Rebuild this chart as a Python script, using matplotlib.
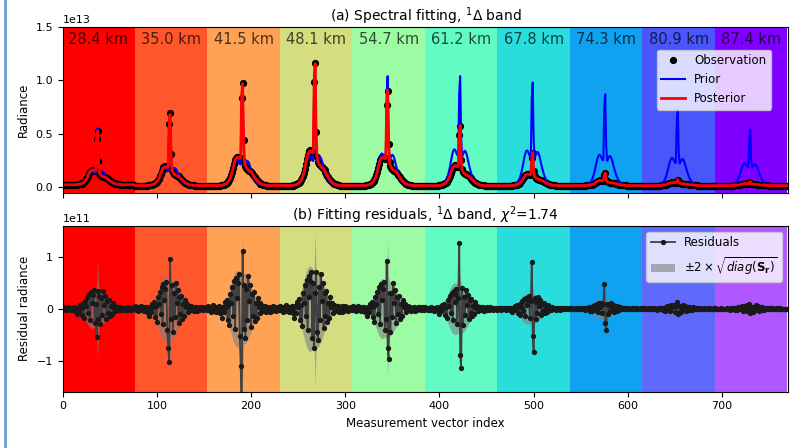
import numpy as np
import matplotlib
matplotlib.use("Agg")
import matplotlib.pyplot as plt
from matplotlib.lines import Line2D

# ---- data (radiance in 1e13, residuals in 1e11) ----
heights = ["28.4 km", "35.0 km", "41.5 km", "48.1 km", "54.7 km",
           "61.2 km", "67.8 km", "74.3 km", "80.9 km", "87.4 km"]
n_per = 77

obs_base = [0.022, 0.015, 0.015, 0.015, 0.015, 0.014, 0.014, 0.014, 0.014, 0.014]
obs_shoulder = [0.14, 0.18, 0.27, 0.33, 0.27, 0.19, 0.11, 0.05, 0.03, 0.02]
obs_peak = [0.53, 0.69, 0.98, 1.16, 0.90, 0.57, 0.32, 0.13, 0.07, 0.05]
prior_shoulder = [0.13, 0.17, 0.24, 0.28, 0.30, 0.34, 0.33, 0.29, 0.26, 0.21]
prior_peak = [0.55, 0.66, 0.95, 1.12, 1.04, 1.04, 0.98, 0.87, 0.73, 0.54]

# band profile read from one segment (normalised, core points at 36-38 separate)
wing_shape = [0, 0, 0, 0, 0, 0, 0, 0, 0, 0,
              0, 0, 0, 0, 0.01, 0.01, 0.02, 0.03, 0.04, 0.06,
              0.08, 0.11, 0.15, 0.20, 0.27, 0.36, 0.48, 0.62, 0.76, 0.87,
              0.94, 0.98, 1.00, 0.97, 0.92, 0.95, 0, 0, 0, 0.80,
              0.68, 0.62, 0.58, 0.55, 0.52, 0.50, 0.47, 0.43, 0.38, 0.33,
              0.28, 0.23, 0.19, 0.15, 0.12, 0.09, 0.07, 0.05, 0.04, 0.03,
              0.02, 0.015, 0.01, 0, 0, 0, 0, 0, 0, 0,
              0, 0, 0, 0, 0, 0, 0]
prior_wing_shape = [0, 0, 0, 0, 0, 0, 0, 0, 0, 0,
                    0, 0, 0, 0, 0, 0, 0.01, 0.02, 0.03, 0.05,
                    0.07, 0.10, 0.14, 0.20, 0.28, 0.38, 0.50, 0.64, 0.78, 0.90,
                    0.98, 1.00, 0.97, 0.90, 0.84, 0.82, 0, 0, 0, 0.80,
                    0.86, 0.93, 0.96, 0.93, 0.85, 0.74, 0.62, 0.50, 0.40, 0.31,
                    0.24, 0.18, 0.13, 0.10, 0.07, 0.05, 0.04, 0.03, 0.02, 0.01,
                    0, 0, 0, 0, 0, 0, 0, 0, 0, 0,
                    0, 0, 0, 0, 0, 0, 0]
core_shape = [0.0] * 36 + [0.85, 1.0, 0.44] + [0.0] * 38

res_pattern = [0.08, -0.03, 0.05, -0.08, 0.02, -0.06, 0.09, 0.01, 0.04, -0.09,
               0.05, -0.03, 0.07, -0.12, 0.02, -0.25, 0.06, -0.10, 0.18, 0.05,
               0.25, -0.30, 0.10, -0.45, 0.40, 0.15, 0.60, -0.20, 0.75, -0.55,
               0.85, 0.30, 0.70, 0.95, -0.75, 0.0, 0.0, 0.0, 0.0, 0.0,
               -0.80, 0.55, -0.30, 0.90, 0.20, 0.65, -0.50, 0.40, -0.20, 0.45,
               -0.35, 0.15, -0.25, 0.30, 0.05, 0.15, -0.12, 0.10, -0.05, 0.08,
               -0.06, 0.07, -0.09, 0.03, -0.04, 0.06, -0.08, 0.03, -0.05, 0.07,
               -0.02, 0.05, -0.06, 0.03, -0.02, 0.05, -0.04]
res_scale = [0.38, 0.55, 0.7, 0.75, 0.55, 0.4, 0.25, 0.12, 0.08, 0.07]
# residuals at the line core (points 35..39 of each segment)
res_core = [[0.10, -0.55, 0.35, -0.20, 0.25],
            [-0.75, -1.02, 0.95, -0.20, 0.45],
            [-1.10, -2.20, 1.12, -0.40, 0.45],
            [0.50, -0.75, 0.30, 0.70, -0.45],
            [-0.20, 0.92, -0.75, -0.97, 0.30],
            [0.20, 1.27, -0.90, -1.15, 0.40],
            [0.15, 0.90, -0.53, -0.84, 0.20],
            [0.10, 0.47, -0.28, -0.42, 0.10],
            [0.05, 0.12, -0.10, -0.08, 0.05],
            [0.03, 0.10, -0.08, -0.06, 0.03]]

env_shape = [0.08] * 13 + [0.09, 0.10, 0.11, 0.13, 0.15, 0.18, 0.22, 0.27, 0.33,
                           0.40, 0.48, 0.57, 0.66, 0.75, 0.83, 0.90, 0.95, 0.98, 1.00,
                           1.00, 0.98, 0.95, 0.93, 0.92, 0.92, 0.92, 0.92, 0.90, 0.87,
                           0.83, 0.78, 0.72, 0.66, 0.59, 0.52, 0.45, 0.39, 0.33, 0.28,
                           0.24, 0.20, 0.17, 0.15, 0.13, 0.12, 0.11, 0.10, 0.09] + [0.08] * 16
env_core_shape = [0.0] * 36 + [0.5, 1.0, 0.5] + [0.0] * 38
env_broad = [0.38, 0.62, 0.74, 0.82, 0.58, 0.50, 0.30, 0.20, 0.12, 0.10]
env_core = [0.98, 1.10, 1.40, 1.50, 1.30, 0.65, 0.45, 0.33, 0.20, 0.18]

# ---- assemble series ----
obs, prior, resid, env = [], [], [], []
for i in range(len(heights)):
    w = np.array(wing_shape)
    pw = np.array(prior_wing_shape)
    c = np.array(core_shape)
    obs.append(obs_base[i] + obs_shoulder[i] * w + (obs_peak[i] - obs_base[i]) * c)
    prior.append(obs_base[i] + prior_shoulder[i] * pw + (prior_peak[i] - obs_base[i]) * c)
    r = res_scale[i] * np.array(res_pattern)
    r[35:40] = res_core[i]
    resid.append(r)
    env.append(np.maximum(env_broad[i] * np.array(env_shape), env_core[i] * np.array(env_core_shape)))
obs = np.concatenate(obs) * 1e13
prior = np.concatenate(prior) * 1e13
resid = np.concatenate(resid) * 1e11
env = np.concatenate(env) * 1e11
post = obs - resid
x = np.arange(len(obs))

top_colors = plt.cm.rainbow(np.linspace(1, 0, 10))
bot_colors = list(top_colors)
bot_colors[8] = "#5f69fa"
bot_colors[9] = "#b058ff"

fig = plt.figure(figsize=(8.08, 4.48), dpi=100)
ax1 = fig.add_axes([0.0776, 0.5692, 0.8976, 0.3705])
ax2 = fig.add_axes([0.0776, 0.1257, 0.8976, 0.3705])

for k in range(10):
    ax1.axvspan(k * n_per - 0.5, (k + 1) * n_per - 0.5, color=top_colors[k], lw=0, zorder=0)
    ax2.axvspan(k * n_per - 0.5, (k + 1) * n_per - 0.5, color=bot_colors[k], lw=0, zorder=0)
    ax1.text(k * n_per + 38, 1.38e13, heights[k], ha="center", va="center",
             fontsize=10.5, alpha=0.7)

ax1.plot(x, obs, "o", color="k", markersize=4.2, label="Observation")
ax1.plot(x, prior, color="b", lw=1.5, label="Prior")
ax1.plot(x, post, color="r", lw=2, label="Posterior")
ax1.set_xlim(0, 770)
ax1.set_ylim(-0.055e13, 1.5e13)
ax1.set_yticks([0, 0.5e13, 1.0e13, 1.5e13])
ax1.set_xticks(range(0, 800, 100))
ax1.set_xticklabels([])
ax1.set_ylabel("Radiance", fontsize=8.5)
ax1.set_title(r"(a) Spectral fitting, $^1\Delta$ band", fontsize=10, pad=3)
ax1.legend(loc="upper right", fontsize=8.5, bbox_to_anchor=(0.985, 0.9))

ax2.fill_between(x, -env, env, color="gray", alpha=0.6, lw=0,
                 label=r"$\pm2\times\sqrt{diag(\mathbf{S_r})}$")
ax2.plot(x, resid, "-o", color="#404040", markerfacecolor="#1a1a1a", markeredgecolor="#1a1a1a",
         lw=1.3, markersize=2.8, label="Residuals")
ax2.set_xlim(0, 770)
ax2.set_ylim(-1.6e11, 1.6e11)
ax2.set_yticks([-1e11, 0, 1e11])
ax2.set_xticks(range(0, 800, 100))
ax2.set_ylabel("Residual radiance", fontsize=8.5)
ax2.set_xlabel("Measurement vector index", fontsize=8.5)
ax2.set_title(r"(b) Fitting residuals, $^1\Delta$ band, $\chi^2$=1.74", fontsize=10, pad=3)
h, l = ax2.get_legend_handles_labels()
ax2.legend(h[::-1], l[::-1], loc="upper right", fontsize=8.5)

for ax in (ax1, ax2):
    ax.tick_params(labelsize=8)
    ax.yaxis.get_offset_text().set_fontsize(8)

fig.add_artist(Line2D([0.0056, 0.0056], [0, 1], transform=fig.transFigure,
                      color="#6e9fd6", lw=2))
fig.savefig("out.png", dpi=100)
